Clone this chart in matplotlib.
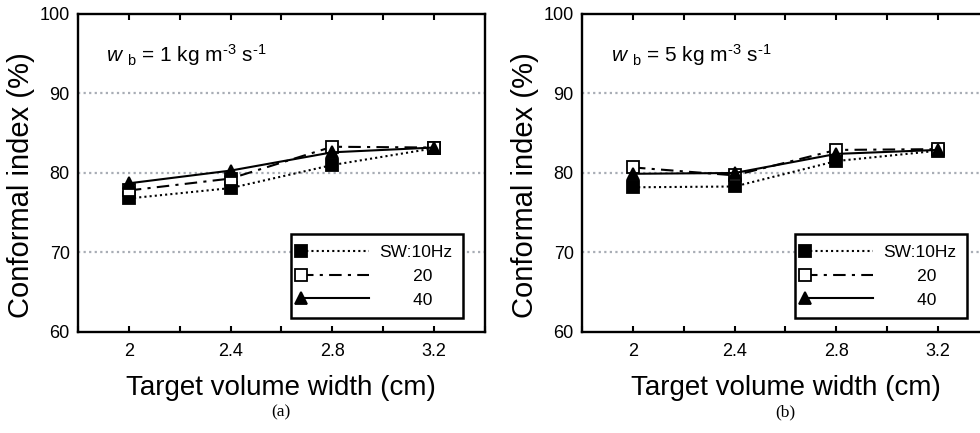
import matplotlib
matplotlib.use("Agg")
import matplotlib.pyplot as plt
from matplotlib.ticker import MultipleLocator

plt.rcParams['font.family'] = ['Liberation Sans', 'DejaVu Sans']
plt.rcParams['mathtext.fontset'] = 'custom'
plt.rcParams['mathtext.rm'] = 'Liberation Sans'
plt.rcParams['mathtext.it'] = 'Liberation Sans:italic'

widths = [2.0, 2.4, 2.8, 3.2]
series_labels = ["SW:10Hz", "       20", "       40"]

# panel (a): w_b = 1
ci_a_10 = [76.8, 78.1, 81.0, 83.1]
ci_a_20 = [77.8, 79.3, 83.3, 83.2]
ci_a_40 = [78.7, 80.3, 82.6, 83.2]

# panel (b): w_b = 5
ci_b_10 = [78.2, 78.3, 81.5, 82.8]
ci_b_20 = [80.7, 79.7, 82.9, 83.0]
ci_b_40 = [79.9, 80.0, 82.4, 82.9]

panel_texts = ["$w$ $_{\\rm b}$ = 1 kg m$^{\\rm \u20103}$ s$^{\\rm \u20101}$",
               "$w$ $_{\\rm b}$ = 5 kg m$^{\\rm \u20103}$ s$^{\\rm \u20101}$"]
captions = ["(a)", "(b)"]

styles = [
    dict(linestyle=(0, (1, 1.5)), marker='s', mfc='black', mec='black'),
    dict(linestyle=(0, (6, 3, 1.5, 3)), marker='s', mfc='white', mec='black'),
    dict(linestyle='-', marker='^', mfc='black', mec='black'),
]

fig = plt.figure(figsize=(9.8, 4.33), dpi=100)
ax_a = fig.add_axes([0.0796, 0.2333, 0.415, 0.7344])
ax_b = fig.add_axes([0.594, 0.2333, 0.415, 0.7344])

data = [(ci_a_10, ci_a_20, ci_a_40), (ci_b_10, ci_b_20, ci_b_40)]

for ax, series, txt, cap in zip([ax_a, ax_b], data, panel_texts, captions):
    for yg in [70, 80, 90]:
        ax.axhline(yg, color='#a8adb5', lw=1.6, linestyle=(0, (1, 1.5)), zorder=0)
    lines = []
    for vals, st, lab in zip(series, styles, series_labels):
        ln, = ax.plot(widths, vals, color='black', lw=1.5, markersize=8.5,
                      markeredgewidth=1.3, label=lab, **st)
        lines.append(ln)
    ax.set_xlim(1.8, 3.4)
    ax.set_ylim(60, 100)
    ax.set_xticks(widths)
    ax.set_xticklabels(["2", "2.4", "2.8", "3.2"])
    ax.xaxis.set_minor_locator(MultipleLocator(0.2))
    ax.set_yticks([60, 70, 80, 90, 100])
    ax.tick_params(axis='x', which='both', direction='in', top=True, length=4,
                   width=1.5, labelsize=13, pad=8)
    ax.tick_params(axis='y', direction='in', right=True, length=0,
                   labelsize=13, pad=6)
    for sp in ax.spines.values():
        sp.set_linewidth(1.7)
    ax.set_xlabel("Target volume width (cm)", fontsize=20, labelpad=11)
    ax.set_ylabel("Conformal index (%)", fontsize=21)
    ax.yaxis.set_label_coords(-0.106, 0.462)
    ax.text(0.07, 0.87, txt, transform=ax.transAxes, fontsize=15, va='center')

    leg = ax.legend(handles=lines, loc='lower right', bbox_to_anchor=(0.946, 0.044),
                    fontsize=12.5, handlelength=3.9, handletextpad=0.6,
                    numpoints=1, fancybox=False, framealpha=1, edgecolor='black',
                    borderpad=0.6, labelspacing=0.5, borderaxespad=0)
    leg.get_frame().set_linewidth(1.8)
    for h in leg.legend_handles:
        h.set_markevery([0])

    pos = ax.get_position()
    fig.text((pos.x0 + pos.x1) / 2, 0.048, cap, ha='center', va='center',
             fontsize=12.5, family=['Liberation Serif', 'DejaVu Serif'])

fig.savefig("out.png", dpi=100)
